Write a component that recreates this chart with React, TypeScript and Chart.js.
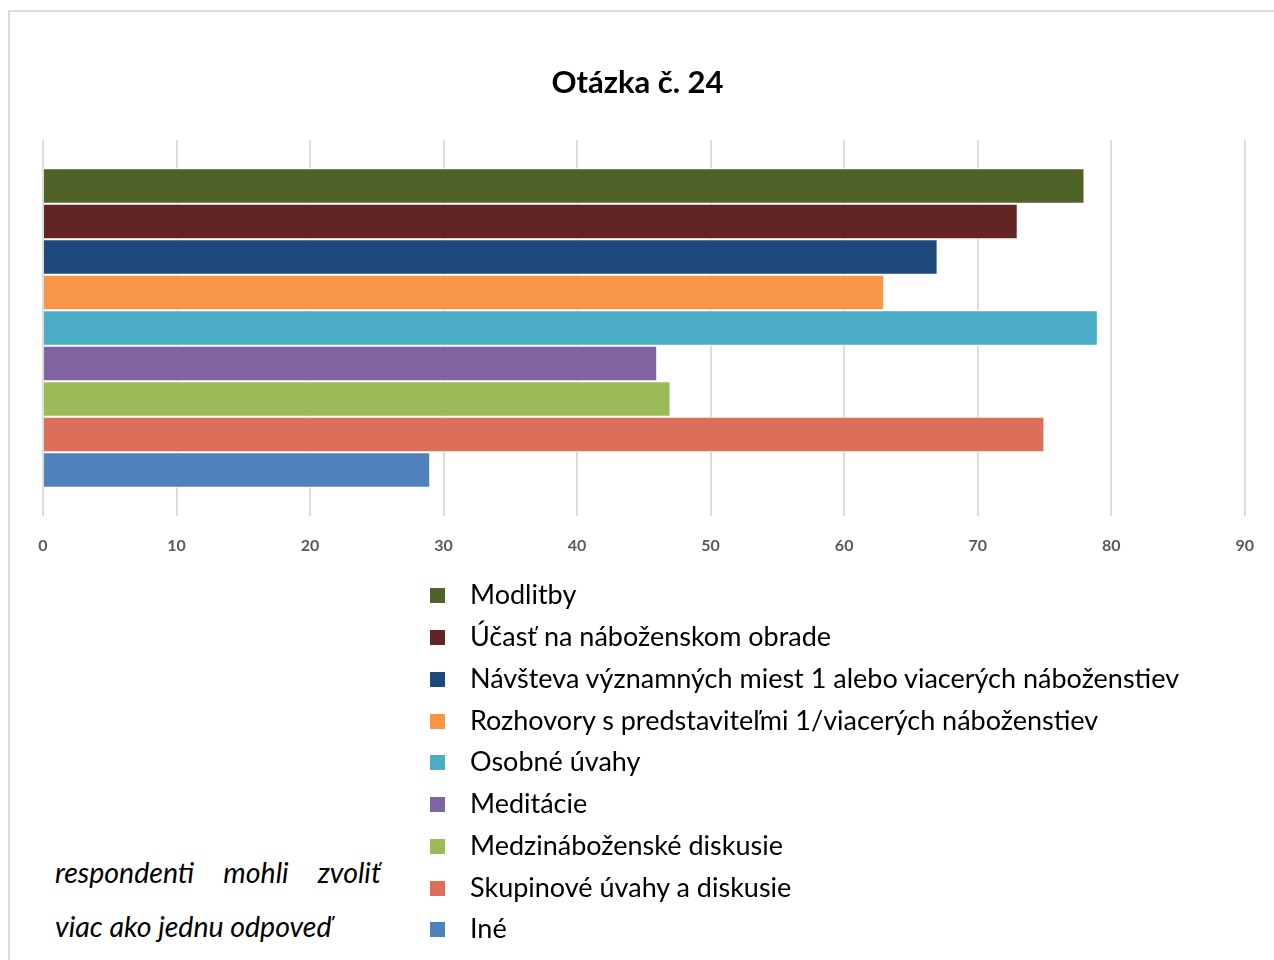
import React, { useEffect, useRef } from 'react';
import { Chart, registerables } from 'chart.js';

Chart.register(...registerables);

const titleText = 'Otázka č. 24';
const categories = [
  'Modlitby',
  'Účasť na náboženskom obrade',
  'Návšteva významných miest 1 alebo viacerých náboženstiev',
  'Rozhovory s predstaviteľmi 1/viacerých náboženstiev',
  'Osobné úvahy',
  'Meditácie',
  'Medzináboženské diskusie',
  'Skupinové úvahy a diskusie',
  'Iné',
];
const values = [78, 73, 67, 63, 79, 46, 47, 75, 29];
const colors = ['#4f6228', '#632523', '#1f497d', '#f79646', '#4bacc6', '#8064a2', '#9bbb59', '#dc6e5a', '#4f81bd'];
const xMin = 0;
const xMax = 90;
const xStep = 10;
const noteLines = ['respondenti mohli zvoliť', 'viac ako jednu odpoveď'];

const FONT = 'Lato, "Noto Sans", sans-serif';

export default function App() {
  const ref = useRef<HTMLCanvasElement | null>(null);

  useEffect(() => {
    if (!ref.current) return;
    const chart = new Chart(ref.current, {
      type: 'bar',
      data: {
        labels: [''],
        datasets: categories.map((c, i) => ({
          label: c,
          data: [values[i]],
          backgroundColor: colors[i],
          borderColor: '#ffffff',
          borderWidth: 1,
          categoryPercentage: 0.85,
          barPercentage: 1.0,
        })),
      },
      options: {
        indexAxis: 'y',
        animation: false,
        responsive: false,
        maintainAspectRatio: false,
        layout: { padding: { left: 19, right: 28, top: 0, bottom: 17 } },
        plugins: {
          legend: { display: false },
          tooltip: { enabled: false },
          title: {
            display: true,
            text: titleText,
            color: '#000000',
            font: { family: FONT, size: 31, weight: 'bold', lineHeight: 1.2 },
            padding: { top: 52, bottom: 39 },
          },
        },
        scales: {
          x: {
            type: 'linear',
            min: xMin,
            max: xMax,
            position: 'bottom',
            ticks: {
              stepSize: xStep,
              color: '#595959',
              padding: 20,
              font: { family: FONT, size: 16, weight: 'bold', lineHeight: 1.2 },
            },
            grid: { color: '#dcdcdc', lineWidth: 2, drawTicks: false },
            border: { display: false },
          },
          y: {
            type: 'category',
            display: true,
            ticks: { display: false },
            grid: { display: false, drawTicks: false },
            border: { display: false },
            afterFit: (scale: any) => {
              scale.width = 14;
            },
          },
        },
      },
    });
    return () => chart.destroy();
  }, []);

  return (
    <div
      style={{
        position: 'absolute',
        left: 8,
        top: 10,
        width: 1266,
        height: 950,
        boxSizing: 'border-box',
        borderTop: '2px solid #dadada',
        borderLeft: '2px solid #dadada',
        background: '#ffffff',
        fontFamily: FONT,
      }}
    >
      <canvas
        ref={ref}
        width={1264}
        height={580}
        style={{ position: 'absolute', left: 0, top: 0, width: 1264, height: 580 }}
      />
      <div style={{ position: 'absolute', left: 420, top: 561 }}>
        {categories.map((c, i) => (
          <div key={c} style={{ display: 'flex', alignItems: 'center', height: 41.75 }}>
            <span
              style={{
                display: 'inline-block',
                width: 15,
                height: 15,
                marginTop: 4,
                background: colors[i],
                marginRight: 25,
              }}
            />
            <span style={{ fontSize: 27, color: '#000', whiteSpace: 'nowrap' }}>{c}</span>
          </div>
        ))}
      </div>
      <div
        style={{
          position: 'absolute',
          left: 45,
          top: 833,
          width: 326,
          fontSize: 28.5,
          fontStyle: 'italic',
          lineHeight: '54px',
          color: '#000',
        }}
      >
        {noteLines.map((l, i) => (
          <div key={i} style={{ textAlign: i === 0 ? 'justify' : 'left', textAlignLast: i === 0 ? 'justify' : 'left' }}>
            {l}
          </div>
        ))}
      </div>
    </div>
  );
}
